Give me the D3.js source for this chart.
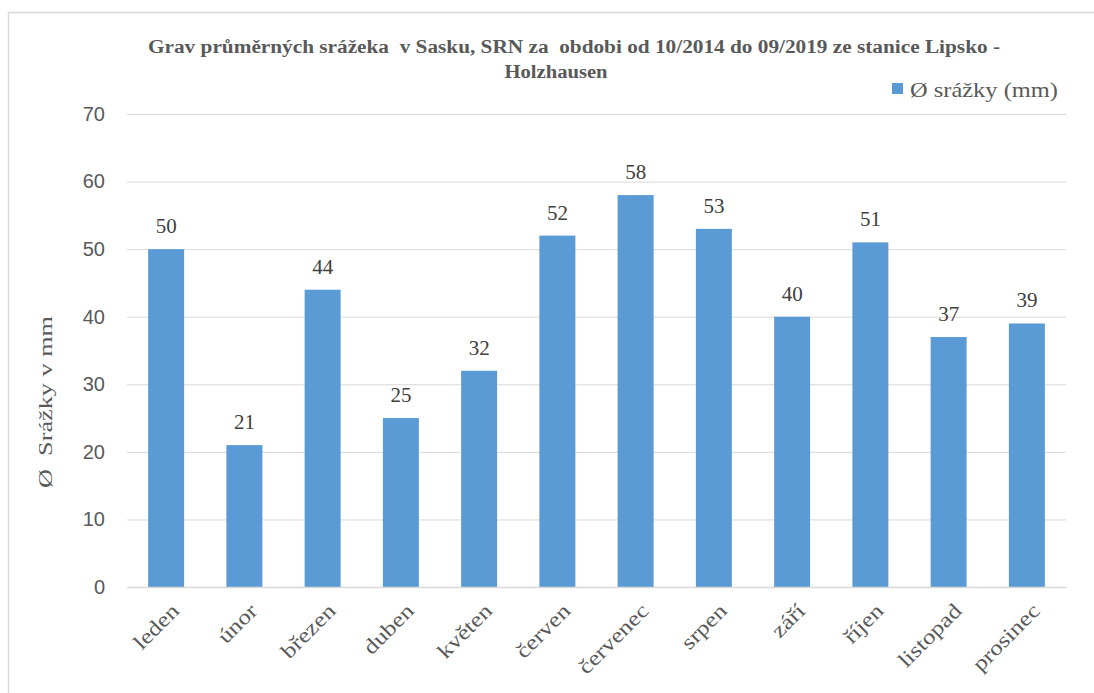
<!DOCTYPE html>
<html>
<head>
<meta charset="utf-8">
<script src="https://cdn.jsdelivr.net/npm/d3@7"></script>
<style>
  body { margin: 0; background: #fff; }
</style>
</head>
<body>
<div id="viz"></div>
<script>
const months = ["leden", "únor", "březen", "duben", "květen", "červen",
    "červenec", "srpen", "září", "říjen", "listopad", "prosinec"];
const rainfall = [50, 21, 44, 25, 32, 52, 58, 53, 40, 51, 37, 39];
const yTicks = [0, 10, 20, 30, 40, 50, 60, 70];
const titleLines = ["Grav průměrných srážeka  v Sasku, SRN za  obdobi od 10/2014 do 09/2019 ze stanice Lipsko -", "Holzhausen"];
const seriesName = "Ø srážky (mm)";
const yTitle = "Ø  Srážky v mm";

const SERIF = "Liberation Serif";
const SANS = "Liberation Sans";

const width = 1094;
const height = 693;

const svg = d3.select("#viz")
    .append("svg")
    .attr("width", width)
    .attr("height", height);

// chart frame (only top and left edge show)
svg.append("path")
    .attr("d", `M8.5,${height} V12.5 H1094`)
    .attr("fill", "none")
    .attr("stroke", "#d9d9d9")
    .attr("stroke-width", 1.5);

const margin = {top: 114, right: 28, bottom: 106, left: 127};
const innerWidth = width - margin.left - margin.right;
const innerHeight = height - margin.top - margin.bottom;

const x = d3.scaleBand()
    .domain(months)
    .range([0, innerWidth])
    .paddingInner(0.54)
    .paddingOuter(0.27);

const y = d3.scaleLinear()
    .domain([0, 70])
    .range([innerHeight, 0]);

const g = svg.append("g")
    .attr("transform", `translate(${margin.left},${margin.top})`);

// gridlines
g.append("g")
    .call(d3.axisLeft(y).tickValues(yTicks).tickSize(-innerWidth).tickFormat(""))
    .call(a => a.select(".domain").remove())
    .call(a => a.selectAll("line").attr("stroke", "#d9d9d9").attr("stroke-width", 1));

// y tick labels
g.append("g")
    .call(d3.axisLeft(y).tickValues(yTicks).tickSize(0).tickPadding(22))
    .attr("font-family", SANS)
    .attr("font-size", 20)
    .call(a => a.select(".domain").remove())
    .call(a => a.selectAll("text").attr("fill", "#595959"));

// bars
g.selectAll("rect.bar").data(rainfall)
    .enter().append("rect")
    .attr("class", "bar")
    .attr("x", (d, i) => x(months[i]))
    .attr("y", d => y(d))
    .attr("width", x.bandwidth())
    .attr("height", d => innerHeight - y(d))
    .attr("fill", "#5b9bd5");

// value labels
g.selectAll("text.val").data(rainfall)
    .enter().append("text")
    .attr("class", "val")
    .attr("x", (d, i) => x(months[i]) + x.bandwidth() / 2)
    .attr("y", d => y(d) - 16)
    .attr("text-anchor", "middle")
    .attr("fill", "#404040")
    .attr("font-family", SERIF)
    .attr("font-size", 21)
    .text(d => d);

// x axis line
const xAxis = g.append("g")
    .attr("transform", `translate(0,${innerHeight})`)
    .call(d3.axisBottom(x).tickSize(0).tickFormat(""));
xAxis.select(".domain").attr("stroke", "#d9d9d9").attr("stroke-width", 1.5);

// rotated month labels
g.selectAll("text.mlab").data(months)
    .enter().append("text")
    .attr("class", "mlab")
    .attr("transform", d => `translate(${x(d) + x.bandwidth() / 2 + 9},${innerHeight + 20}) rotate(-45) scale(1.2,1)`)
    .attr("text-anchor", "end")
    .attr("dy", "0.35em")
    .attr("fill", "#595959")
    .attr("font-family", SERIF)
    .attr("font-size", 21)
    .text(d => d);

// y axis title
svg.append("text")
    .attr("transform", "translate(52,402) rotate(-90)")
    .attr("text-anchor", "middle")
    .attr("fill", "#595959")
    .attr("font-family", SERIF)
    .attr("font-size", 19)
    .attr("textLength", 172)
    .attr("lengthAdjust", "spacingAndGlyphs")
    .style("white-space", "pre")
    .text(yTitle);

// title
const titlePos = [{x: 574, y: 53, len: 852}, {x: 556, y: 78, len: 103}];
svg.append("g")
    .selectAll("text").data(titleLines)
    .enter().append("text")
    .attr("x", (d, i) => titlePos[i].x)
    .attr("y", (d, i) => titlePos[i].y)
    .attr("text-anchor", "middle")
    .attr("fill", "#595959")
    .attr("font-family", SERIF)
    .attr("font-weight", "bold")
    .attr("font-size", 18)
    .attr("textLength", (d, i) => titlePos[i].len)
    .attr("lengthAdjust", "spacingAndGlyphs")
    .style("white-space", "pre")
    .text(d => d);

// legend
const legend = svg.append("g").attr("transform", "translate(892,97)");
legend.append("rect")
    .attr("x", 0).attr("y", -14)
    .attr("width", 11).attr("height", 11)
    .attr("fill", "#5b9bd5");
legend.append("text")
    .attr("x", 18)
    .attr("y", 0)
    .attr("fill", "#595959")
    .attr("font-family", SERIF)
    .attr("font-size", 21)
    .attr("textLength", 148)
    .attr("lengthAdjust", "spacingAndGlyphs")
    .text(seriesName);
</script>
</body>
</html>
